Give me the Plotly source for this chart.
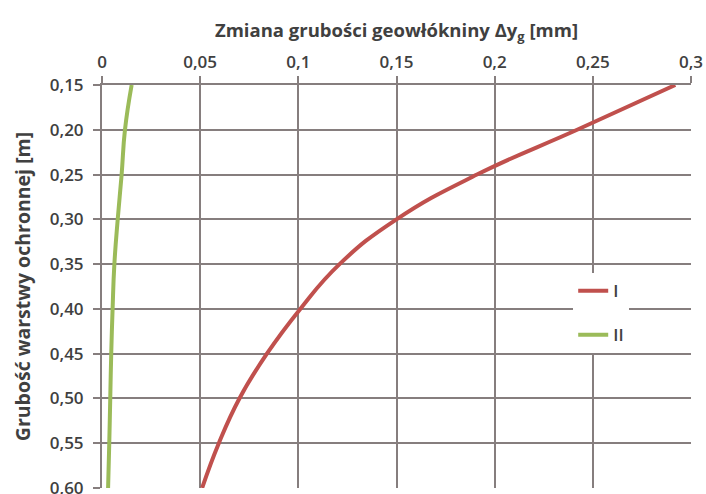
import plotly.graph_objects as go

# Thickness of the protective layer [m]
thickness = [0.15, 0.20, 0.25, 0.30, 0.35, 0.40, 0.45, 0.50, 0.55, 0.60]
# Change of geotextile thickness [mm] for both variants
series_I = [0.292, 0.242, 0.191, 0.150, 0.121, 0.101, 0.084, 0.070, 0.0595, 0.051]
series_II = [0.0151, 0.0117, 0.0100, 0.0080, 0.0063, 0.0054, 0.0047, 0.0042, 0.0037, 0.0031]

x_tickvals = [0, 0.05, 0.1, 0.15, 0.2, 0.25, 0.3]
x_ticktext = ["0", "0,05", "0,1", "0,15", "0,2", "0,25", "0,3"]
y_tickvals = thickness
y_ticktext = ["0,15", "0,20", "0,25", "0,30", "0,35", "0,40", "0,45", "0,50", "0,55", "0,60"]

grid = "#867e7e"
txt = "#404040"
font_family = "Open Sans, Lato, sans-serif"

fig = go.Figure()
fig.add_trace(go.Scatter(x=series_I, y=thickness, mode="lines", name="I",
                         legendgroup="a",
                         line=dict(color="#C0504D", width=4, shape="spline", smoothing=1.3)))
fig.add_trace(go.Scatter(x=series_II, y=thickness, mode="lines", name="II",
                         legendgroup="b",
                         line=dict(color="#9BBB59", width=4, shape="spline", smoothing=1.3)))

fig.update_layout(
    width=706, height=494,
    margin=dict(l=102, r=15, t=85, b=6),
    paper_bgcolor="white", plot_bgcolor="white",
    font=dict(family=font_family, size=17, color=txt, weight=600),
    showlegend=True,
    legend=dict(x=0.80, y=0.533, xanchor="left", yanchor="top",
                bgcolor="white", font=dict(size=17, color=txt, weight=600),
                tracegroupgap=19),
    xaxis=dict(side="top", range=[0, 0.3], tickvals=x_tickvals, ticktext=x_ticktext,
               showgrid=True, gridcolor=grid, gridwidth=2, zeroline=False,
               showline=True, linecolor=grid, linewidth=2,
               ticks="outside", ticklen=7, tickcolor=grid, tickwidth=1.5,
               ticklabelstandoff=1,
               ticklabeloverflow="allow", automargin=False,
               title=dict(text="<b>Zmiana grubości geowłókniny Δy<sub>g</sub> [mm]</b>",
                          font=dict(size=18.5, color=txt), standoff=8)),
    yaxis=dict(range=[0.60, 0.15], tickvals=y_tickvals, ticktext=y_ticktext,
               showgrid=True, gridcolor=grid, gridwidth=2, zeroline=False,
               showline=True, linecolor=grid, linewidth=2,
               ticks="outside", ticklen=7, tickcolor=grid, tickwidth=2,
               ticklabelstandoff=6, ticklabeloverflow="allow", automargin=False,
               title=dict(text="<b>Grubość warstwy ochronnej [m]</b>",
                          font=dict(size=19.5, color=txt), standoff=14)),
)

fig.write_html("out.html")
